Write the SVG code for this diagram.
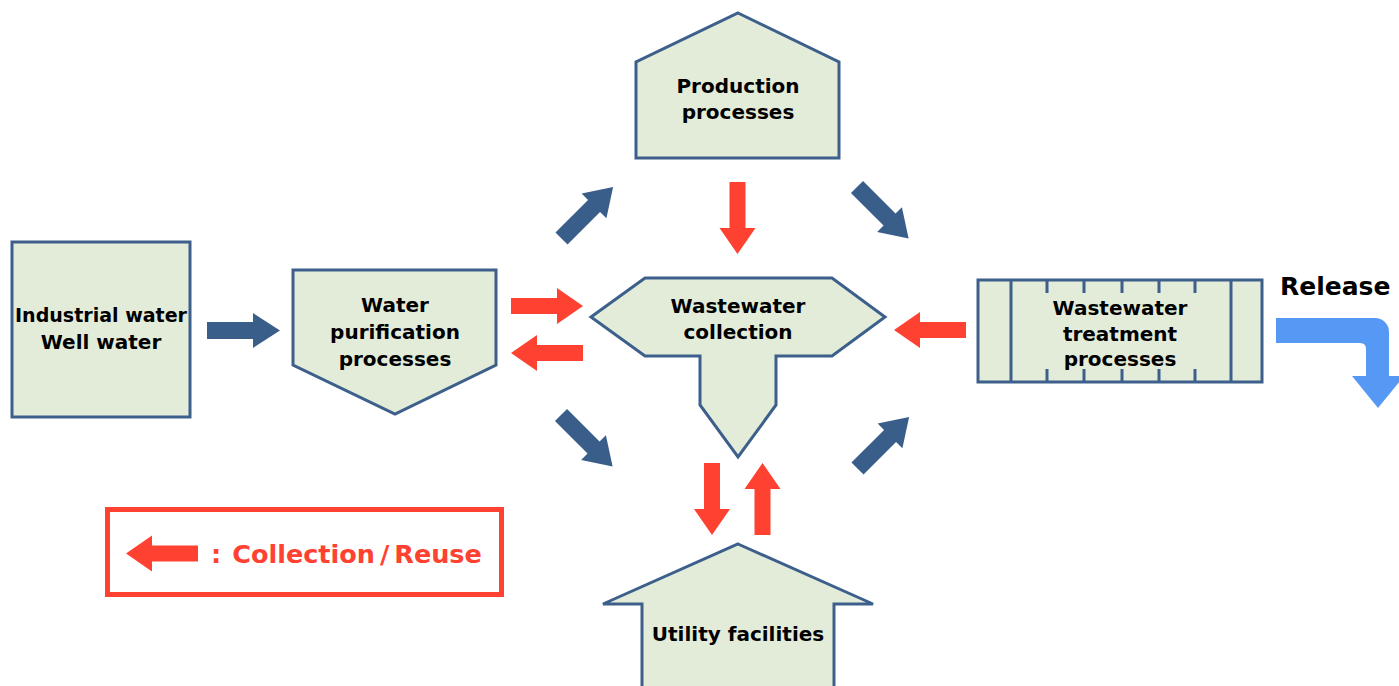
<svg xmlns="http://www.w3.org/2000/svg" width="1399" height="686" viewBox="0 0 1399 686">
<style>
.node{fill:#e3ecd9;stroke:#3c5f8b;stroke-width:3;stroke-linejoin:miter}
.lbl{font-family:"DejaVu Sans","Verdana",sans-serif;font-weight:bold;font-size:20px;fill:#000;text-anchor:middle}
.blue{fill:#3a5e8a}
.red{fill:#ff4131}
</style>
<defs>
<path id="ba" d="M0,-8.5 H46 V-17.5 L73,0 L46,17.5 V8.5 H0 Z"/>
<path id="ra" d="M0,-8 H46 V-18 L72,0 L46,18 V8 H0 Z"/>
</defs>
<rect width="1399" height="686" fill="#fff"/>
<g id="industrial">
<rect class="node" x="12" y="242" width="178" height="175"/>
<text class="lbl" x="101" y="322" textLength="172" lengthAdjust="spacingAndGlyphs">Industrial water</text>
<text class="lbl" x="101" y="349">Well water</text>
</g>
<g id="purification">
<path class="node" d="M293,270 H496 V365 L395,414 L293,365 Z"/>
<text class="lbl" x="395" y="312">Water</text>
<text class="lbl" x="395" y="339">purification</text>
<text class="lbl" x="395" y="366">processes</text>
</g>
<g id="production">
<path class="node" d="M738,13 L839,62 V158 H636 V62 Z"/>
<text class="lbl" x="738" y="93">Production</text>
<text class="lbl" x="738" y="119">processes</text>
</g>
<g id="collection">
<path class="node" d="M591,317 L645,278 H832 L885,317 L832,356 H776 V405 L738,457 L700,405 V356 H645 Z"/>
<text class="lbl" x="738" y="313">Wastewater</text>
<text class="lbl" x="738" y="339">collection</text>
</g>
<g id="treatment">
<rect class="node" x="978" y="280" width="284" height="102"/>
<path fill="none" stroke="#3c5f8b" stroke-width="3" d="M1011,280 V382 M1231,280 V382 M1047,280 V293 M1084,280 V293 M1122,280 V293 M1159,280 V293 M1195,280 V293 M1047,369 V382 M1084,369 V382 M1122,369 V382 M1159,369 V382 M1195,369 V382"/>
<text class="lbl" x="1120" y="315">Wastewater</text>
<text class="lbl" x="1120" y="341">treatment</text>
<text class="lbl" x="1120" y="366">processes</text>
</g>
<g id="utility">
<path class="node" d="M738,544 L873,604 H834 V690 H642 V604 H603 Z"/>
<text class="lbl" x="738" y="641">Utility facilities</text>
</g>
<g id="release">
<text x="1280" y="295" style="font-family:'DejaVu Sans',Verdana,sans-serif;font-weight:bold;font-size:25px;fill:#000">Release</text>
<path fill="#5599f5" d="M1276,318 H1375 A14,14 0 0 1 1389,332 V376 H1404 L1378,408 L1352,376 H1366 V349 Q1366,343 1360,343 H1276 Z"/>
</g>
<g id="connectors">
<use href="#ba" class="blue" transform="translate(207,330.5)"/>
<use href="#ba" class="blue" transform="translate(561.5,238.5) rotate(-45)"/>
<use href="#ba" class="blue" transform="translate(857,187) rotate(45)"/>
<use href="#ba" class="blue" transform="translate(561,415) rotate(45)"/>
<use href="#ba" class="blue" transform="translate(857.5,468.5) rotate(-45)"/>
<use href="#ra" class="red" transform="translate(511,306)"/>
<use href="#ra" class="red" transform="translate(583,353) rotate(180)"/>
<use href="#ra" class="red" transform="translate(737.5,182) rotate(90)"/>
<use href="#ra" class="red" transform="translate(966,330) rotate(180)"/>
<use href="#ra" class="red" transform="translate(712,463) rotate(90)"/>
<use href="#ra" class="red" transform="translate(762.5,535) rotate(-90)"/>
</g>
<g id="legend">
<rect x="107.5" y="509.5" width="394" height="85" fill="#fff" stroke="#ff4131" stroke-width="5"/>
<use href="#ra" class="red" transform="translate(198,553.5) rotate(180)"/>
<text x="211" y="563" style="font-family:'DejaVu Sans',Verdana,sans-serif;font-weight:bold;font-size:25.5px;fill:#ff4131">:<tspan dx="11">Collection</tspan><tspan dx="5">/</tspan><tspan dx="5">Reuse</tspan></text>
</g>
</svg>
